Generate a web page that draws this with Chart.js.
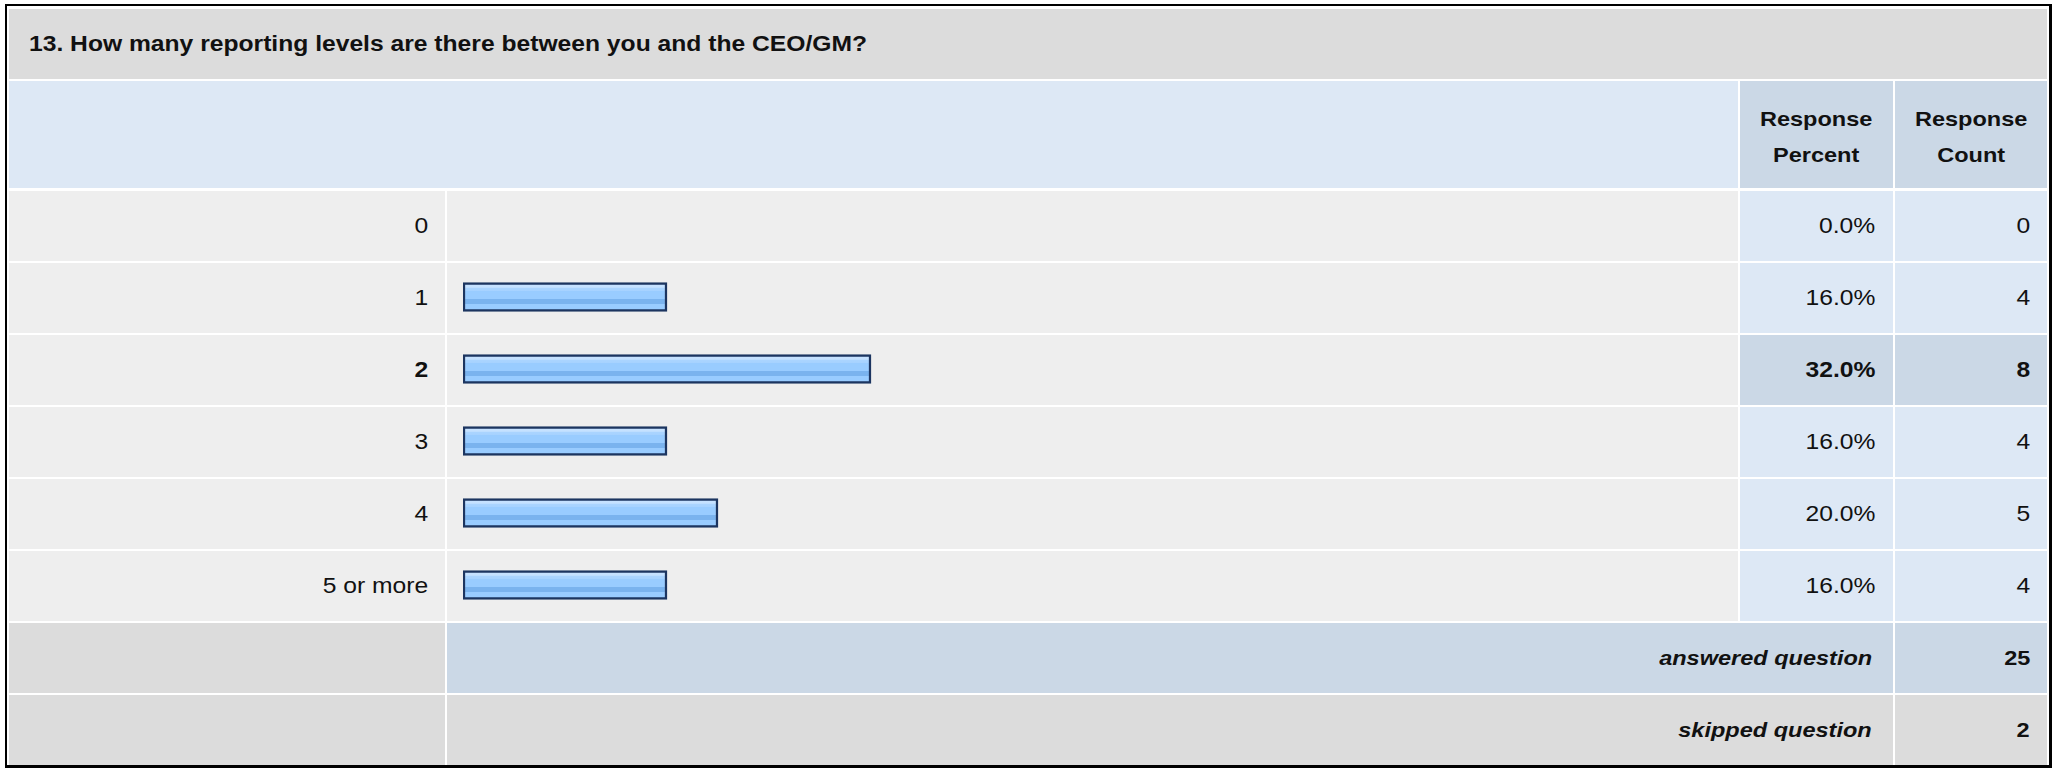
<!DOCTYPE html>
<html>
<head>
<meta charset="utf-8">
<script src="https://cdn.jsdelivr.net/npm/chart.js@4.4.1/dist/chart.umd.min.js"></script>
<style>
  html, body { margin: 0; padding: 0; background: #fff; }
  body { width: 2053px; height: 768px; position: relative; overflow: hidden;
         font-family: "Liberation Sans", Arial, sans-serif; color: #111; }
  .frame { position: absolute; left: 5px; top: 4px; width: 2042px; height: 759px;
           border-left: 2px solid #000; border-top: 2px solid #000;
           border-right: 3px solid #000; border-bottom: 3px solid #000; }
  .cell { position: absolute; display: flex; align-items: center; box-sizing: border-box; }
  .cell.r { justify-content: flex-end; }
  .cell.c { justify-content: center; text-align: center; }
  .t { display: inline-block; transform: scaleX(1.12); white-space: nowrap; }
  .r .t { transform-origin: right center; }
  .c .t { transform-origin: center center; }
  .l .t { transform-origin: left center; }
  #bars { position: absolute; left: 447px; top: 189px; }
</style>
</head>
<body>
<div class="frame"></div>
<div id="table"></div>
<canvas id="bars" width="1291" height="432"></canvas>
<script>
const question = "13. How many reporting levels are there between you and the CEO/GM?";
const levels = ["0", "1", "2", "3", "4", "5 or more"];
const percents = [0.0, 16.0, 32.0, 16.0, 20.0, 16.0];
const counts = [0, 4, 8, 4, 5, 4];
const answered = 25;
const skipped = 2;

const GRAY = "#dcdcdc", ROW = "#eeeeee", BLUE = "#dde8f5", BLUE2 = "#cbd8e6";
const table = document.getElementById("table");

function cell(x, y, w, h, bg, html, cls = "", style = "") {
  const d = document.createElement("div");
  d.className = "cell " + cls;
  d.style.cssText = `left:${x}px;top:${y}px;width:${w}px;height:${h}px;background:${bg};${style}`;
  if (html != null) d.innerHTML = `<span class="t">${html}</span>`;
  table.appendChild(d);
  return d;
}

// title + header
cell(9, 9, 2038, 70, GRAY, question, "l", "padding-left:20px;font-weight:bold;font-size:22px;");
cell(9, 81, 1729, 107, BLUE);
cell(1740, 81, 153, 107, BLUE2, "Response<br>Percent", "c", "font-weight:bold;font-size:21px;line-height:36px;padding-top:4px;");
cell(1895, 81, 152, 107, BLUE2, "Response<br>Count", "c", "font-weight:bold;font-size:21px;line-height:36px;padding-top:4px;");

// answer rows
const maxCount = Math.max(...counts);
levels.forEach((lv, i) => {
  const y = 191 + i * 72;
  const top = counts[i] === maxCount;
  const fw = top ? "font-weight:bold;" : "";
  cell(9, y, 436, 70, ROW, lv, "r", "padding-right:17px;font-size:22px;" + fw);
  cell(447, y, 1291, 70, ROW);
  cell(1740, y, 153, 70, top ? BLUE2 : BLUE, percents[i].toFixed(1) + "%", "r", "padding-right:18px;font-size:22px;" + fw);
  cell(1895, y, 152, 70, top ? BLUE2 : BLUE, String(counts[i]), "r", "padding-right:17px;font-size:22px;" + fw);
});

// totals
cell(9, 623, 436, 70, GRAY);
cell(447, 623, 1446, 70, BLUE2, "answered question", "r", "padding-right:21px;font-size:21px;font-weight:bold;font-style:italic;");
cell(1895, 623, 152, 70, BLUE2, String(answered), "r", "padding-right:17px;font-size:21px;font-weight:bold;");
cell(9, 695, 436, 70, GRAY);
cell(447, 695, 1446, 70, GRAY, "skipped question", "r", "padding-right:21px;font-size:21px;font-weight:bold;font-style:italic;");
cell(1895, 695, 152, 70, GRAY, String(skipped), "r", "padding-right:17px;font-size:21px;font-weight:bold;");

// bars
const BAR_H = 29;
function barFill(context) {
  const chart = context.chart;
  const yScale = chart.scales.y;
  if (!yScale || context.dataIndex == null) return "#99ccff";
  const cy = yScale.getPixelForValue(context.dataIndex);
  if (!Number.isFinite(cy)) return "#99ccff";
  const g = chart.ctx.createLinearGradient(0, cy - BAR_H / 2, 0, cy + BAR_H / 2);
  g.addColorStop(0.0, "#c8e3ff");
  g.addColorStop(0.17, "#c4e1ff");
  g.addColorStop(0.18, "#abd5ff");
  g.addColorStop(0.29, "#a6d2ff");
  g.addColorStop(0.30, "#99ccff");
  g.addColorStop(0.56, "#99ccff");
  g.addColorStop(0.57, "#7ab3ee");
  g.addColorStop(0.73, "#7ab3ee");
  g.addColorStop(0.74, "#99ccff");
  g.addColorStop(1.0, "#99ccff");
  return g;
}

new Chart(document.getElementById("bars").getContext("2d"), {
  type: "bar",
  data: {
    labels: levels,
    datasets: [{
      data: percents,
      backgroundColor: barFill,
      borderColor: "#1c3560",
      borderWidth: 2.5,
      borderSkipped: false,
      barThickness: BAR_H,
    }],
  },
  options: {
    indexAxis: "y",
    responsive: false,
    animation: false,
    layout: { padding: { left: 16, right: 0, top: 0, bottom: 0 } },
    scales: {
      x: { display: false, min: 0, max: 100 },
      y: { display: false },
    },
    plugins: { legend: { display: false }, tooltip: { enabled: false } },
  },
});
</script>
</body>
</html>
